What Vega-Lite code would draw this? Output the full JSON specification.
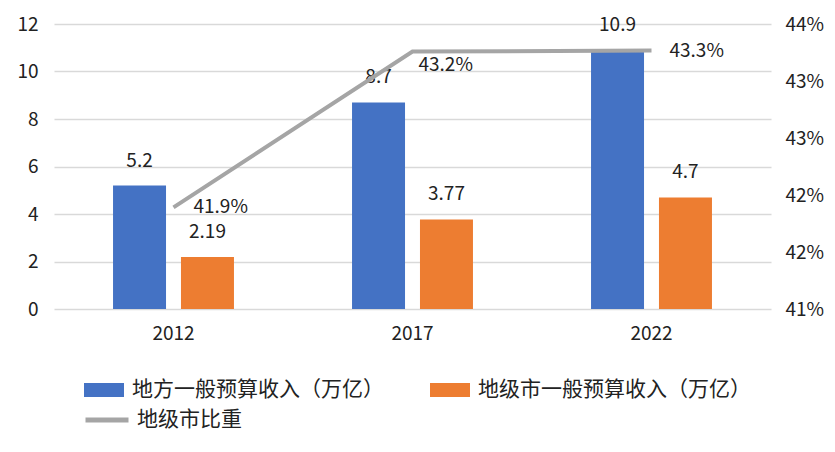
{
  "$schema": "https://vega.github.io/schema/vega-lite/v6.json",
  "width": 717,
  "height": 285,
  "autosize": {"type": "none"},
  "padding": {"left": 54, "top": 24, "right": 64, "bottom": 143},
  "background": "white",
  "config": {
    "view": {"stroke": null},
    "font": "Noto Sans CJK SC",
    "axis": {"labelFont": "Noto Sans CJK SC", "labelColor": "#222", "labelFontSize": 19},
    "legend": {"labelFont": "Noto Sans CJK SC", "labelColor": "#222", "labelFontSize": 21, "padding": 0, "labelLimit": 0}
  },
  "datasets": {
    "bars": [
      {"year": "2012", "series": "地方一般预算收入（万亿）", "value": 5.2},
      {"year": "2012", "series": "地级市一般预算收入（万亿）", "value": 2.19},
      {"year": "2017", "series": "地方一般预算收入（万亿）", "value": 8.7},
      {"year": "2017", "series": "地级市一般预算收入（万亿）", "value": 3.77},
      {"year": "2022", "series": "地方一般预算收入（万亿）", "value": 10.9},
      {"year": "2022", "series": "地级市一般预算收入（万亿）", "value": 4.7}
    ],
    "line": [
      {"year": "2012", "series": "地级市比重", "share": 42.07, "label": "41.9%"},
      {"year": "2017", "series": "地级市比重", "share": 43.71, "label": "43.2%"},
      {"year": "2022", "series": "地级市比重", "share": 43.72, "label": "43.3%"}
    ]
  },
  "encoding": {
    "x": {
      "field": "year", "type": "nominal",
      "scale": {"paddingInner": 0.494, "paddingOuter": 0.247},
      "axis": {"title": null, "labelAngle": 0, "domain": false, "ticks": false, "labelPadding": 15}
    }
  },
  "layer": [
    {
      "data": {"name": "bars"},
      "encoding": {
        "y": {
          "field": "value", "type": "quantitative",
          "scale": {"domain": [0, 12], "nice": false},
          "axis": {"title": null, "values": [0, 2, 4, 6, 8, 10, 12], "domain": false, "ticks": false, "labelPadding": 16, "gridColor": "#D9D9D9", "gridWidth": 1.5}
        },
        "xOffset": {"field": "series", "type": "nominal", "scale": {"paddingInner": 0.22, "paddingOuter": 0}}
      },
      "layer": [
        {
          "mark": {"type": "bar"},
          "encoding": {
            "fill": {
              "field": "series", "type": "nominal",
              "scale": {"domain": ["地方一般预算收入（万亿）", "地级市一般预算收入（万亿）"], "range": ["#4472C4", "#ED7D31"]},
              "legend": {
                "title": null, "orient": "none", "direction": "horizontal",
                "legendX": 30, "legendY": 346,
                "symbolType": "M-1,-0.35H1V0.35H-1Z", "symbolSize": 1600, "symbolStrokeWidth": 0,
                "labelOffset": 8, "columnPadding": 46, "labelLimit": 0
              }
            }
          }
        },
        {
          "mark": {"type": "text", "baseline": "middle", "dy": -25, "fontSize": 19, "color": "#222"},
          "encoding": {"text": {"field": "value", "type": "quantitative"}}
        }
      ]
    },
    {
      "data": {"name": "line"},
      "encoding": {
        "y": {
          "field": "share", "type": "quantitative",
          "scale": {"domain": [41, 44], "nice": false, "zero": false},
          "axis": {"title": null, "orient": "right", "values": [41, 41.6, 42.2, 42.8, 43.4, 44], "labelExpr": "format(datum.value, '.0f') + '%'", "grid": false, "domain": false, "ticks": false, "labelPadding": 14}
        }
      },
      "layer": [
        {
          "mark": {"type": "line", "strokeWidth": 4, "strokeCap": "butt"},
          "encoding": {
            "stroke": {
              "field": "series", "type": "nominal",
              "scale": {"domain": ["地级市比重"], "range": ["#A5A5A5"]},
              "legend": {
                "title": null, "orient": "none",
                "legendX": 29, "legendY": 372,
                "symbolType": "stroke", "symbolSize": 1849, "symbolStrokeWidth": 5,
                "labelOffset": 6, "labelLimit": 0
              }
            }
          }
        },
        {
          "transform": [{"filter": "datum.year == '2012'"}],
          "mark": {"type": "text", "align": "left", "baseline": "middle", "dx": 20, "dy": 0, "fontSize": 19, "color": "#222"},
          "encoding": {"text": {"field": "label"}}
        },
        {
          "transform": [{"filter": "datum.year == '2017'"}],
          "mark": {"type": "text", "align": "left", "baseline": "middle", "dx": 6, "dy": 13, "fontSize": 19, "color": "#222"},
          "encoding": {"text": {"field": "label"}}
        },
        {
          "transform": [{"filter": "datum.year == '2022'"}],
          "mark": {"type": "text", "align": "left", "baseline": "middle", "dx": 18, "dy": 0, "fontSize": 19, "color": "#222"},
          "encoding": {"text": {"field": "label"}}
        }
      ]
    }
  ],
  "resolve": {"scale": {"y": "independent"}}
}
